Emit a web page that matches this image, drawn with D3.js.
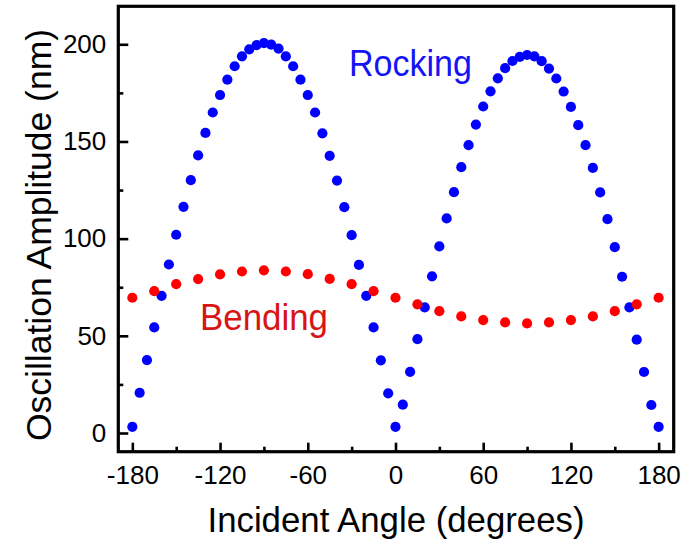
<!DOCTYPE html>
<html>
<head>
<meta charset="utf-8">
<script src="https://cdn.jsdelivr.net/npm/d3@7/dist/d3.min.js"></script>
<style>
  html, body { margin: 0; padding: 0; background: #fff; }
  svg { display: block; }
  text { font-family: "Liberation Sans", Arial, sans-serif; }
</style>
</head>
<body>
<svg id="chart" width="683" height="546"></svg>
<script>
// ---- data ----
const rockingAngles = [-180,-175,-170,-165,-160,-155,-150,-145,-140,-135,-130,-125,-120,-115,-110,-105,-100,-95,-90,-85,-80,-75,-70,-65,-60,-55,-50,-45,-40,-35,-30,-25,-20,-15,-10,-5,0,5,10,15,20,25,30,35,40,45,50,55,60,65,70,75,80,85,90,95,100,105,110,115,120,125,130,135,140,145,150,155,160,165,170,175,180];
const rockingValues = [3.2,20.7,37.5,54.3,70.6,86.7,102.0,116.4,130.1,142.8,154.4,164.9,173.9,181.8,188.7,193.8,197.4,199.6,200.6,199.8,197.8,193.8,188.7,181.8,173.9,164.9,154.2,142.6,129.9,116.2,101.8,86.5,70.6,54.3,37.4,20.4,3.2,14.6,31.5,48.3,64.6,80.6,96.0,110.4,123.9,136.8,148.1,158.7,168.0,175.8,182.5,187.7,191.4,193.5,194.5,193.8,191.3,187.5,182.4,175.7,167.8,158.4,148.1,136.4,123.8,110.0,95.6,80.4,64.6,48.0,31.4,14.4,3.2];
const bendingAngles = [-180,-165,-150,-135,-120,-105,-90,-75,-60,-45,-30,-15,0,15,30,45,60,75,90,105,120,135,150,165,180];
const bendingValues = [69.6,73.0,76.6,79.2,81.6,83.1,83.7,83.1,81.7,79.3,76.6,73.0,69.6,66.2,62.7,60.0,58.1,56.9,56.4,56.9,58.1,60.0,62.7,66.2,69.6];
const xMajorTicks = [-180,-120,-60,0,60,120,180];
const xMinorTicks = [-150,-90,-30,30,90,150];
const yMajorTicks = [0,50,100,150,200];
const yMinorTicks = [25,75,125,175];
const xTitle = "Incident Angle (degrees)";
const yTitle = "Oscillation Amplitude (nm)";
const seriesLabels = ["Rocking", "Bending"];

// ---- layout ----
const svg = d3.select("#chart");
const L = 118.3, R = 673.7, T = 6.3, B = 451.7;
const x = d3.scaleLinear().domain([-189.6, 190.3]).range([L, R]);
const y = d3.scaleLinear().domain([-9.62, 219.55]).range([B, T]);
const FONT = '"Liberation Sans", Arial, sans-serif';
const plain = d => String(d); // hyphen-minus as in the reference

// points
const rocking = rockingAngles.map((a, i) => ({a, v: rockingValues[i]}));
const bending = bendingAngles.map((a, i) => ({a, v: bendingValues[i]}));

svg.append("g").selectAll("circle").data(rocking).join("circle")
  .attr("cx", d => x(d.a)).attr("cy", d => y(d.v)).attr("r", 5.1)
  .attr("fill", "#0000ff");
svg.append("g").selectAll("circle").data(bending).join("circle")
  .attr("cx", d => x(d.a)).attr("cy", d => y(d.v)).attr("r", 5.1)
  .attr("fill", "#ff0000");

// axes
const xAxis = svg.append("g").attr("transform", `translate(0,${B})`)
  .call(d3.axisBottom(x).tickValues(xMajorTicks).tickSize(-9).tickPadding(13.5).tickFormat(plain));
const xMinor = svg.append("g").attr("transform", `translate(0,${B})`)
  .call(d3.axisBottom(x).tickValues(xMinorTicks).tickSize(-5).tickFormat(""));
const yAxis = svg.append("g").attr("transform", `translate(${L},0)`)
  .call(d3.axisLeft(y).tickValues(yMajorTicks).tickSize(-10).tickPadding(12).tickFormat(plain));
const yMinor = svg.append("g").attr("transform", `translate(${L},0)`)
  .call(d3.axisLeft(y).tickValues(yMinorTicks).tickSize(-5).tickFormat(""));

[xAxis, xMinor, yAxis, yMinor].forEach(g => {
  g.select(".domain").remove();
  g.selectAll("line").attr("stroke", "#000").attr("stroke-width", 2.6);
  g.selectAll("text").attr("fill", "#000").style("font-size", "26px").style("font-family", FONT);
});

// frame
svg.append("rect").attr("x", L).attr("y", T).attr("width", R - L).attr("height", B - T)
  .attr("fill", "none").attr("stroke", "#000").attr("stroke-width", 3.2);

// titles
svg.append("text").attr("x", 396).attr("y", 532).attr("text-anchor", "middle")
  .style("font-size", "35px").attr("textLength", 377).attr("lengthAdjust", "spacingAndGlyphs")
  .attr("fill", "#000").text(xTitle);
svg.append("text").attr("transform", "translate(51,235) rotate(-90)").attr("text-anchor", "middle")
  .style("font-size", "35px").attr("textLength", 412).attr("lengthAdjust", "spacingAndGlyphs")
  .attr("fill", "#000").text(yTitle);

// series labels
svg.append("text").attr("x", 349).attr("y", 75.7)
  .style("font-size", "37px").attr("textLength", 123).attr("lengthAdjust", "spacingAndGlyphs")
  .attr("fill", "#1414f5").text(seriesLabels[0]);
svg.append("text").attr("x", 200).attr("y", 330)
  .style("font-size", "36px").attr("textLength", 128).attr("lengthAdjust", "spacingAndGlyphs")
  .attr("fill", "#d81414").text(seriesLabels[1]);
</script>
</body>
</html>
